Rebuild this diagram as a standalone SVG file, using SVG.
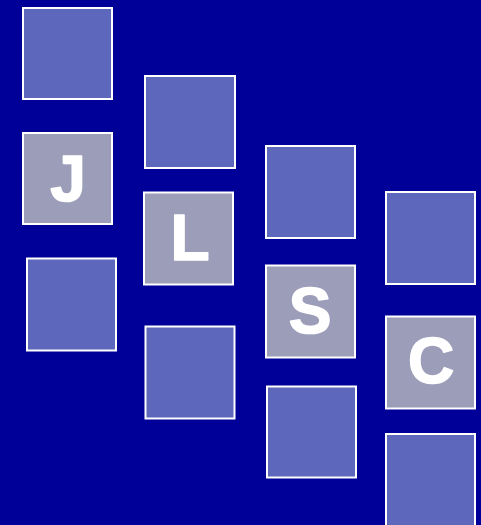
<svg xmlns="http://www.w3.org/2000/svg" width="481" height="525" viewBox="0 0 481 525">
<style>
.b{fill:#5d67bc;stroke:#ffffff;stroke-width:2}
.g{fill:#9b9db9;stroke:#ffffff;stroke-width:2}
.t{font-family:"Liberation Sans",Arial,sans-serif;font-weight:bold;font-size:64px;fill:#ffffff;stroke:#ffffff;stroke-width:1.6;stroke-linejoin:round;text-anchor:middle}
</style>
<rect x="0" y="0" width="481" height="525" fill="#000099"/>
<g id="n1"><rect class="b" x="23" y="8" width="89" height="91"/></g>
<g id="nJ"><rect class="g" x="23" y="133" width="89" height="91"/><text class="t" x="68" y="201">J</text></g>
<g id="n3"><rect class="b" x="27" y="258.5" width="89" height="92"/></g>
<g id="n4"><rect class="b" x="145" y="76" width="90" height="92"/></g>
<g id="nL"><rect class="g" x="144" y="192.5" width="89" height="92"/><text class="t" x="190" y="260">L</text></g>
<g id="n6"><rect class="b" x="145.5" y="326.5" width="89" height="92"/></g>
<g id="n7"><rect class="b" x="266" y="146" width="89" height="92"/></g>
<g id="nS"><rect class="g" x="266" y="265.5" width="89" height="92"/><text class="t" x="310" y="333">S</text></g>
<g id="n9"><rect class="b" x="267" y="386.5" width="89" height="91"/></g>
<g id="n10"><rect class="b" x="386" y="192" width="89" height="92"/></g>
<g id="nC"><rect class="g" x="386" y="316.5" width="89" height="92"/><text class="t" x="431" y="383">C</text></g>
<g id="n12"><rect class="b" x="386" y="434" width="89" height="100"/></g>
<g id="connectors"></g>
</svg>
